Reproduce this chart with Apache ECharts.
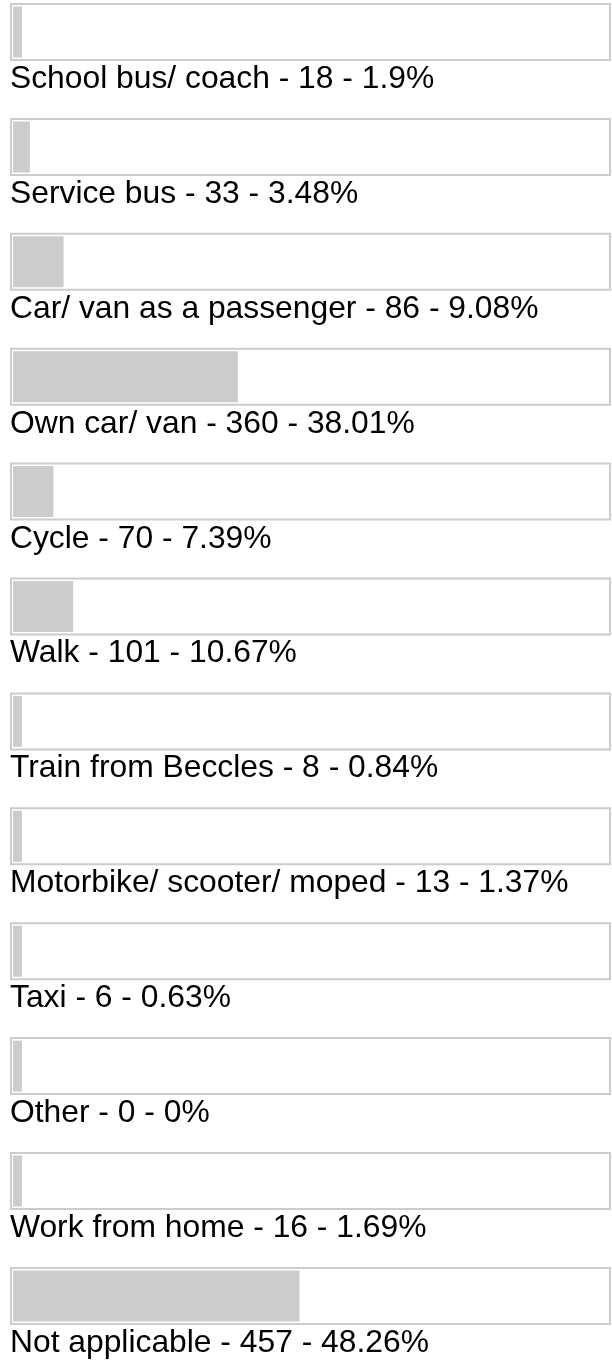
<!DOCTYPE html>
<html><head><meta charset="utf-8">
<script src="https://cdn.jsdelivr.net/npm/echarts@6/dist/echarts.min.js"></script>
<style>html,body{margin:0;padding:0;background:#fff}#c{width:612px;height:1364px}</style>
</head><body><div id="c"></div>
<script>
const categories = ['School bus/ coach', 'Service bus', 'Car/ van as a passenger', 'Own car/ van', 'Cycle', 'Walk', 'Train from Beccles', 'Motorbike/ scooter/ moped', 'Taxi', 'Other', 'Work from home', 'Not applicable'];
const counts = [18, 33, 86, 360, 70, 101, 8, 13, 6, 0, 16, 457];
const percents = [1.9, 3.48, 9.08, 38.01, 7.39, 10.67, 0.84, 1.37, 0.63, 0, 1.69, 48.26];

const PITCH = 114.9;
const gridTop = 32;
const gridH = PITCH * (categories.length - 1);

const chart = echarts.init(document.getElementById('c'), null, {renderer: 'canvas'});
chart.setOption({
  animation: false,
  backgroundColor: '#ffffff',
  grid: [
    {left: 13, top: gridTop, width: 598, height: gridH},
    {left: 11, top: gridTop, width: 599, height: gridH}
  ],
  xAxis: [
    {type: 'value', gridIndex: 0, min: 0.676, max: 100, show: false},
    {type: 'value', gridIndex: 1, min: 0, max: 100, show: false}
  ],
  yAxis: [
    {type: 'category', gridIndex: 0, data: categories, inverse: true, boundaryGap: false, show: false},
    {type: 'category', gridIndex: 1, data: categories, inverse: true, boundaryGap: false, show: false}
  ],
  series: [
    {
      type: 'bar', name: 'track', xAxisIndex: 1, yAxisIndex: 1, data: percents,
      barWidth: 56, z: 1, silent: true, clip: false,
      itemStyle: {color: 'rgba(0,0,0,0)'},
      showBackground: true,
      backgroundStyle: {color: '#ffffff', borderColor: '#cccccc', borderWidth: 2},
      label: {
        show: true, position: [-1, 75.2], align: 'left', verticalAlign: 'middle',
        fontFamily: '"Liberation Sans", Arial, sans-serif', fontSize: 31.8, color: '#000000',
        formatter: p => `${categories[p.dataIndex]} - ${counts[p.dataIndex]} - ${percents[p.dataIndex]}%`
      }
    },
    {
      type: 'bar', name: 'share', xAxisIndex: 0, yAxisIndex: 0, data: percents,
      barWidth: 51, barMinHeight: 13, clip: true, z: 2, silent: true,
      itemStyle: {color: '#cccccc'}
    }
  ]
});
</script></body></html>
